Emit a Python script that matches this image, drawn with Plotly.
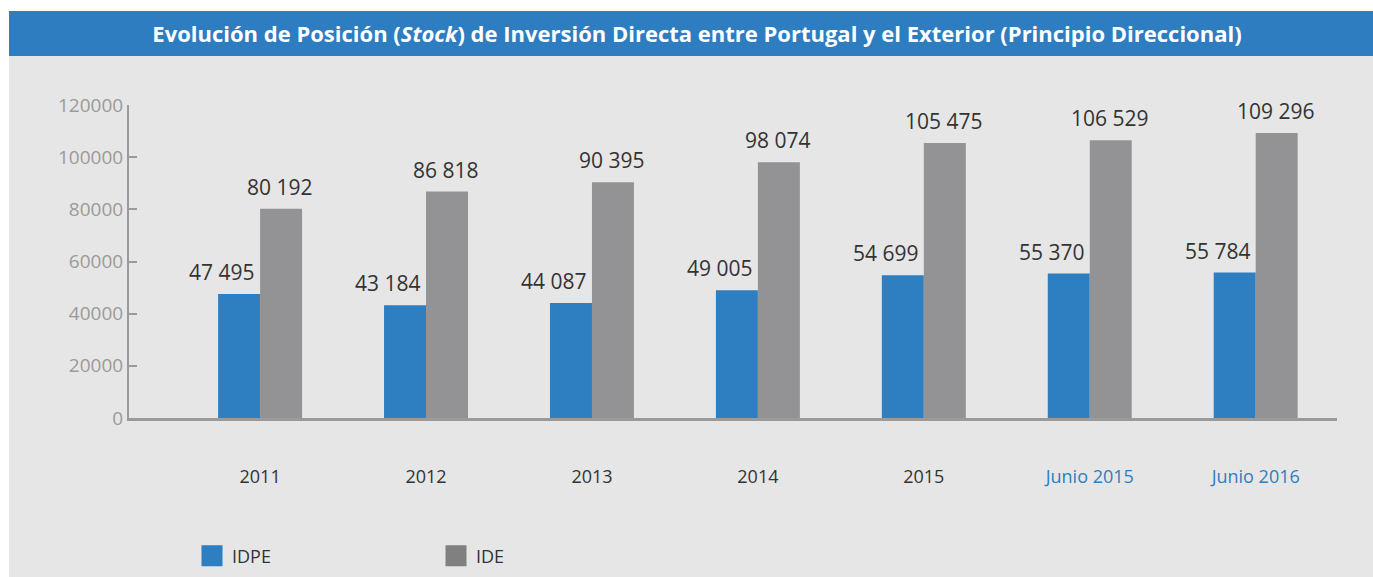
import plotly.graph_objects as go

categories = ["2011", "2012", "2013", "2014", "2015", "Junio 2015", "Junio 2016"]
idpe = [47495, 43184, 44087, 49005, 54699, 55370, 55784]
ide = [80192, 86818, 90395, 98074, 105475, 106529, 109296]
idpe_labels = ["47 495", "43 184", "44 087", "49 005", "54 699", "55 370", "55 784"]
ide_labels = ["80 192", "86 818", "90 395", "98 074", "105 475", "106 529", "109 296"]
tick_colors = ["#333333"] * 5 + ["#2e7ec2"] * 2

BLUE = "#2e7ec2"
GRAY = "#939396"
LEG_GRAY = "#808080"
BG = "#e6e6e6"
FONT = "Open Sans"

fig = go.Figure()
fig.add_trace(go.Bar(x=categories, y=idpe, name="IDPE", marker_color=BLUE,
                     marker_line_width=0, showlegend=False))
fig.add_trace(go.Bar(x=categories, y=ide, name="IDE", marker_color=GRAY,
                     marker_line_width=0, showlegend=False))
# legend-only entries
fig.add_trace(go.Scatter(x=[None], y=[None], mode="markers", name="IDPE",
                         marker=dict(symbol="square", size=22, color=BLUE,
                                     line=dict(width=5, color=BLUE))))
fig.add_trace(go.Scatter(x=[None], y=[None], mode="markers", name="IDE",
                         marker=dict(symbol="square", size=22, color=LEG_GRAY,
                                     line=dict(width=5, color=LEG_GRAY))))

annotations = []
for i, (v, t) in enumerate(zip(idpe, idpe_labels)):
    annotations.append(dict(x=i, y=v, xref="x", yref="y", text=t, showarrow=False,
                            xshift=-38, yshift=6, yanchor="bottom",
                            font=dict(size=21, color="#333333", family=FONT)))
for i, (v, t) in enumerate(zip(ide, ide_labels)):
    annotations.append(dict(x=i, y=v, xref="x", yref="y", text=t, showarrow=False,
                            xshift=20, yshift=6, yanchor="bottom",
                            font=dict(size=21, color="#333333", family=FONT)))

ticktext = [f'<span style="color:{col}">{c}</span>' for c, col in zip(categories, tick_colors)]

W, H = 1373, 577
L, R, T, B = 129, 36, 105, 159
pw, ph = W - L - R, H - T - B
def px(x): return (x - L) / pw
def py(y): return (H - B - y) / ph

shapes = [
    dict(type="rect", xref="paper", yref="paper", x0=px(9), x1=px(1380), y0=py(600), y1=py(11),
         fillcolor=BG, line_width=0, layer="below"),
    dict(type="rect", xref="paper", yref="paper", x0=px(9), x1=px(1380), y0=py(56), y1=py(11),
         fillcolor="#2e7dc1", line_width=0, layer="below"),
]

fig.update_layout(
    width=W, height=H,
    margin=dict(l=L, r=R, t=T, b=B, autoexpand=False),
    paper_bgcolor="white",
    plot_bgcolor="rgba(0,0,0,0)",
    font=dict(family=FONT, color="#333333"),
    barmode="group", bargap=0.494, bargroupgap=0,
    title=dict(text="Evolución de Posición (<i>Stock</i>) de Inversión Directa entre Portugal y el Exterior (Principio Direccional)",
               x=697 / W, y=1 - 34 / H, xref="container", yref="container",
               xanchor="center", yanchor="middle",
               font=dict(family=FONT, size=22, color="white", weight="bold")),
    xaxis=dict(type="category", range=[-0.79, 6.49], showgrid=False, zeroline=False,
               showline=True, linecolor="#9a9a9a", linewidth=3,
               tickvals=categories, ticktext=ticktext, ticks="", ticklabelstandoff=40,
               tickfont=dict(size=18, family=FONT, color="#333333")),
    yaxis=dict(range=[0, 120000], showgrid=False, zeroline=False,
               showline=True, linecolor="#9a9a9a", linewidth=2,
               tickvals=[0, 20000, 40000, 60000, 80000, 100000, 120000],
               ticktext=["0", "20000", "40000", "60000", "80000", "100000", "120000"],
               ticks="inside", ticklen=8, tickwidth=2, tickcolor="#9a9a9a",
               tickfont=dict(size=19, family=FONT, color="#9a9a9a")),
    legend=dict(orientation="h", x=px(192), y=py(556), xanchor="left", yanchor="middle",
                entrywidth=199, entrywidthmode="pixels", itemsizing="trace",
                bgcolor="rgba(0,0,0,0)", font=dict(size=18, family=FONT, color="#333333")),
    annotations=annotations,
    shapes=shapes,
)

fig.write_html("out.html", config={"displayModeBar": False},
               post_script="document.body.style.margin='0';")
